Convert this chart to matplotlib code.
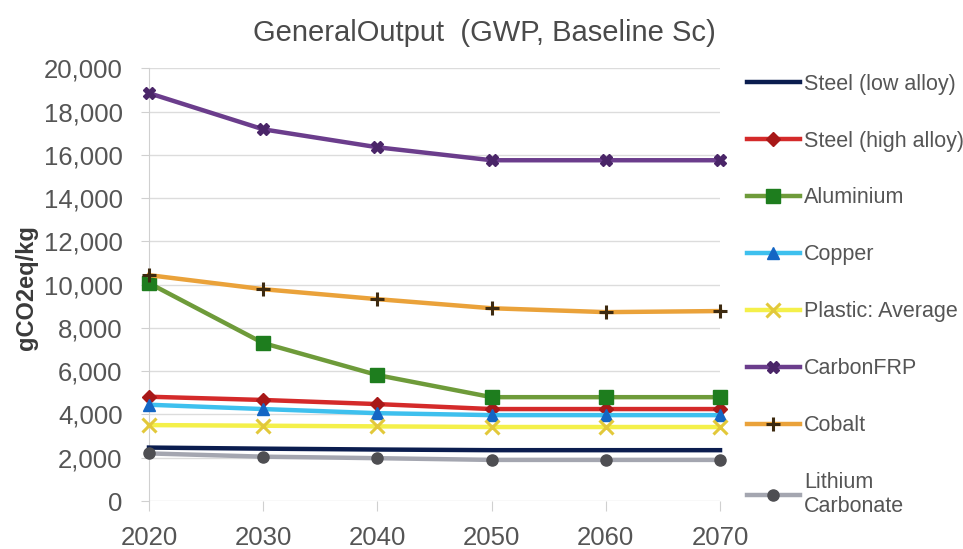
import matplotlib.pyplot as plt
from matplotlib.ticker import FuncFormatter

plt.rcParams['font.family'] = ['Liberation Sans', 'DejaVu Sans']

years = [2020, 2030, 2040, 2050, 2060, 2070]

steel_low = [2470, 2420, 2380, 2350, 2350, 2350]
steel_high = [4820, 4670, 4480, 4250, 4250, 4250]
aluminium = [10070, 7300, 5820, 4800, 4800, 4800]
copper = [4450, 4250, 4060, 3970, 3970, 3970]
plastic = [3510, 3480, 3450, 3420, 3420, 3420]
carbon_frp = [18850, 17180, 16350, 15750, 15750, 15750]
cobalt = [10440, 9790, 9330, 8910, 8730, 8780]
lithium = [2200, 2050, 1980, 1900, 1900, 1900]

# label, values, line colour, marker, marker colour, marker size
series = [
    ("Steel (low alloy)", steel_low, "#0b1d4f", None, "#0b1d4f", 0),
    ("Steel (high alloy)", steel_high, "#d42a2a", "D", "#a81818", 7),
    ("Aluminium", aluminium, "#6e9b3a", "s", "#1e7d1e", 10),
    ("Copper", copper, "#3ec0ee", "^", "#1466c4", 8),
    ("Plastic: Average", plastic, "#f4f04a", "x", "#e2c83a", 10),
    ("CarbonFRP", carbon_frp, "#6b3d8c", "X", "#4a2568", 9),
    ("Cobalt", cobalt, "#eaa23a", "+", "#3d2a10", 10),
    ("Lithium\nCarbonate", lithium, "#a4a6b0", "o", "#4e4e52", 8),
]

fig = plt.figure(figsize=(9.63, 5.49), dpi=100)
ax = fig.add_axes([0.1547, 0.0874, 0.593, 0.7882])

for label, vals, col, mk, mcol, ms in series:
    ax.plot(years, vals, color=col, lw=3.2, marker=mk, markersize=ms,
            markerfacecolor=mcol, markeredgecolor=mcol,
            markeredgewidth=2.2 if mk in ("x", "+") else 1,
            label=label, clip_on=False, zorder=3)

ax.set_xlim(2020, 2070)
ax.set_ylim(0, 20000)
ax.set_xticks(years)
ax.set_yticks(range(0, 20001, 2000))
ax.yaxis.set_major_formatter(FuncFormatter(lambda v, p: f"{int(v):,}"))
ax.grid(axis="y", color="#dcdcdc", lw=1)
ax.set_axisbelow(True)
for s in ["top", "right", "bottom"]:
    ax.spines[s].set_visible(False)
ax.spines["left"].set_color("#d0d0d0")
ax.tick_params(axis="y", colors="#d0d0d0", labelcolor="#555555", labelsize=18.5, length=6, pad=13)
ax.tick_params(axis="x", colors="#d0d0d0", labelcolor="#555555", labelsize=18.5, length=7, pad=11)

fig.text(0.027, 0.477, "gCO2eq/kg", rotation=90, fontsize=17, fontweight="bold",
         color="#3a3a3a", ha="center", va="center")
fig.text(0.5026, 0.94, "GeneralOutput  (GWP, Baseline Sc)", fontsize=21,
         color="#4a4a4a", ha="center", va="center")

leg = fig.legend(loc="upper left", bbox_to_anchor=(747 / 963, 0.866), frameon=False,
                 fontsize=15.5, labelspacing=1.67, handlelength=2.45, handletextpad=0.2,
                 borderaxespad=0, borderpad=0)
for t in leg.get_texts():
    t.set_color("#555555")

fig.savefig("out.png", dpi=100)
